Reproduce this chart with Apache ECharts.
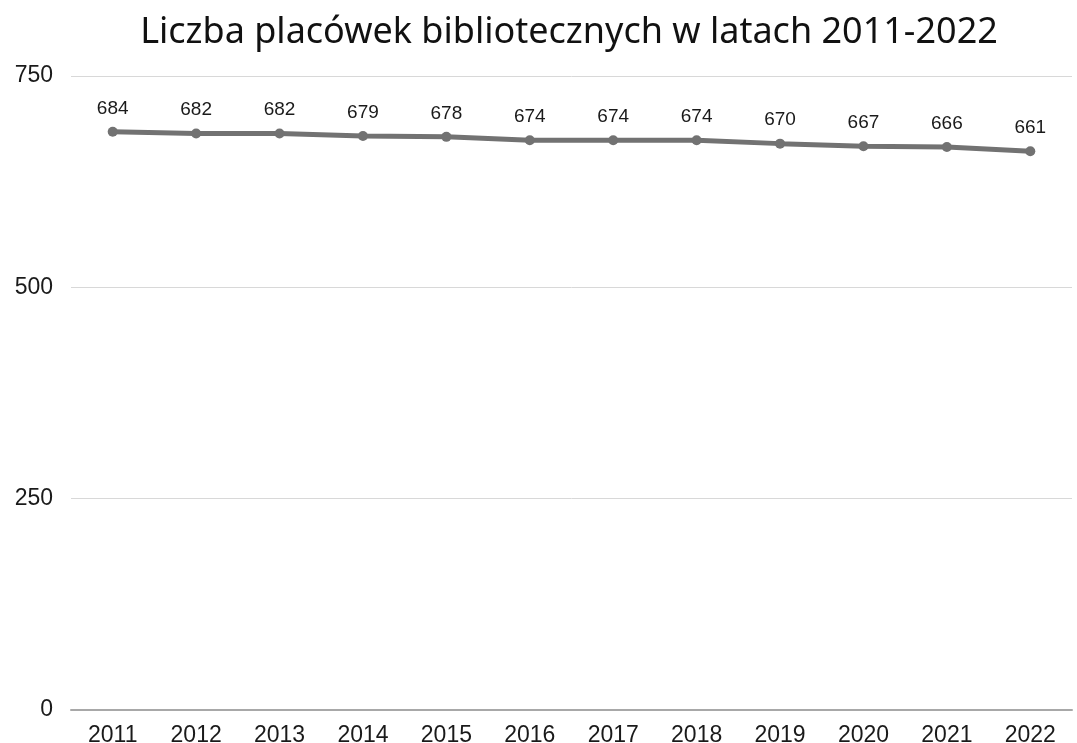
<!DOCTYPE html>
<html>
<head>
<meta charset="utf-8">
<script src="https://cdn.jsdelivr.net/npm/echarts@6/dist/echarts.min.js"></script>
<style>
  html, body { margin: 0; padding: 0; background: #fff; }
  #chart { width: 1077px; height: 743px; }
</style>
</head>
<body>
<div id="chart"></div>
<script>
const years = ['2011', '2012', '2013', '2014', '2015', '2016', '2017', '2018', '2019', '2020', '2021', '2022'];
const placowki = [684, 682, 682, 679, 678, 674, 674, 674, 670, 667, 666, 661];
const yTicks = [0, 250, 500, 750];

const myChart = echarts.init(document.getElementById('chart'));
const option = {
    backgroundColor: '#fff',
    title: {
        text: 'Liczba placówek bibliotecznych w latach 2011-2022',
        left: 564,
        top: 10,
        textAlign: 'center',
        textStyle: {
            fontFamily: 'Noto Sans',
            fontWeight: 'normal',
            fontSize: 36,
            color: '#111'
        }
    },
    grid: {
        left: 71,
        right: 5,
        top: 76,
        bottom: 33,
        outerBoundsMode: 'none'
    },
    xAxis: {
        type: 'category',
        data: years,
        axisLine: { lineStyle: { color: '#a8a8a8', width: 2 } },
        axisTick: { show: false },
        axisLabel: {
            margin: 14,
            fontFamily: 'Liberation Sans',
            fontSize: 23,
            color: '#1a1a1a'
        }
    },
    yAxis: {
        type: 'value',
        min: yTicks[0],
        max: yTicks[yTicks.length - 1],
        interval: 250,
        axisLine: { show: false },
        axisTick: { show: false },
        splitLine: { lineStyle: { color: '#d8d8d8', width: 1 } },
        axisLabel: {
            margin: 18,
            fontFamily: 'Liberation Sans',
            fontSize: 23,
            color: '#1a1a1a'
        }
    },
    series: [
        {
            name: 'Liczba placówek',
            type: 'line',
            data: placowki,
            symbol: 'circle',
            symbolSize: 10,
            lineStyle: { color: '#727272', width: 5 },
            itemStyle: { color: '#727272' },
            label: {
                show: true,
                position: 'top',
                distance: 9,
                fontFamily: 'Liberation Sans',
                fontSize: 19,
                color: '#1a1a1a'
            }
        }
    ]
};
myChart.setOption(option, true);
</script>
</body>
</html>
